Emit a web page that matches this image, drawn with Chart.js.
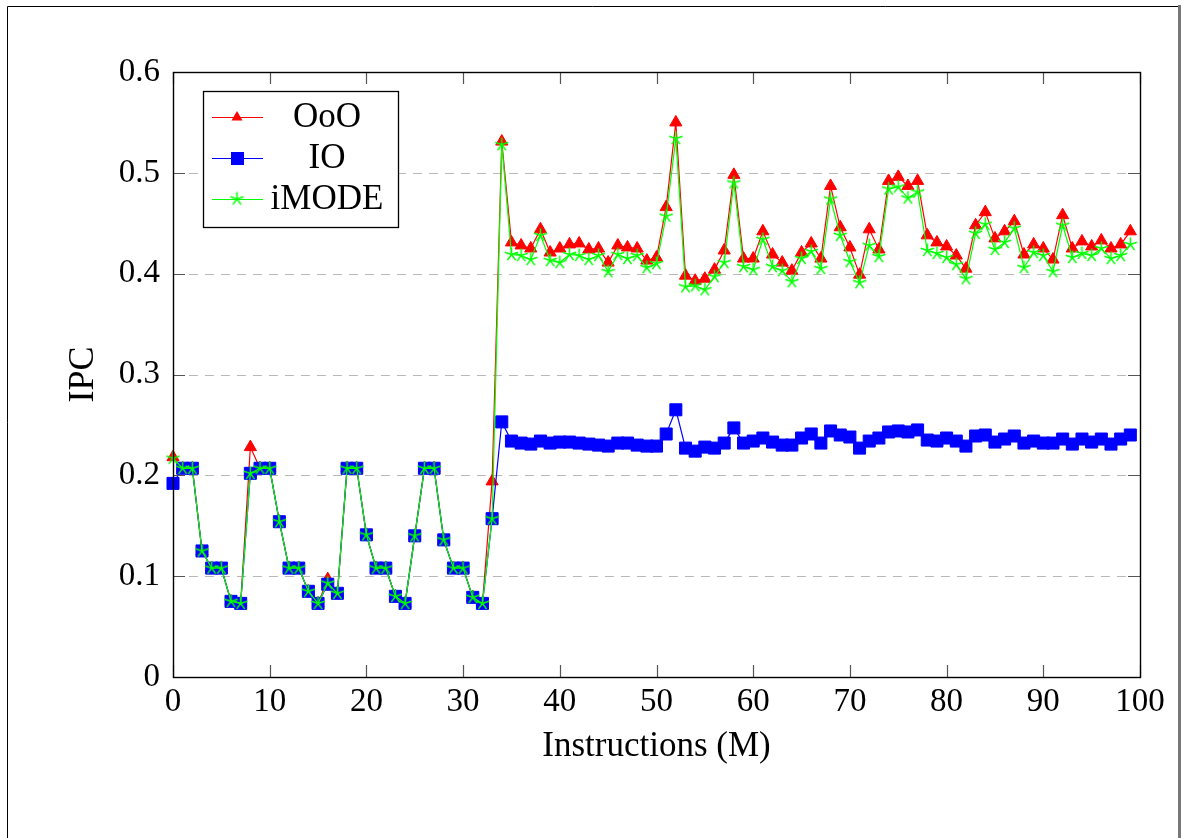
<!DOCTYPE html>
<html lang="en">
<head>
    <meta charset="UTF-8">
    <title>IPC</title>
    <style>
        html, body {
            margin: 0;
            padding: 0;
            background-color: #ffffff;
        }

        #chart-container {
            position: relative;
            width: 1182px;
            height: 838px;
        }
    </style>
</head>
<body>
    <div id="chart-container"><canvas id="ipcChart"></canvas></div>

    <script src="https://cdn.jsdelivr.net/npm/chart.js"></script>
    <script>
        // instrucciones (M)
        const instructions = [
            0, 1, 2, 3, 4, 5, 6, 7, 8, 9, 10, 11, 12, 13, 14, 15, 16, 17, 18, 19,
            20, 21, 22, 23, 24, 25, 26, 27, 28, 29, 30, 31, 32, 33, 34, 35, 36, 37, 38, 39,
            40, 41, 42, 43, 44, 45, 46, 47, 48, 49, 50, 51, 52, 53, 54, 55, 56, 57, 58, 59,
            60, 61, 62, 63, 64, 65, 66, 67, 68, 69, 70, 71, 72, 73, 74, 75, 76, 77, 78, 79,
            80, 81, 82, 83, 84, 85, 86, 87, 88, 89, 90, 91, 92, 93, 94, 95, 96, 97, 98, 99
        ];

        const oooIPC = [
            0.218, 0.207, 0.207, 0.125, 0.108, 0.108, 0.075, 0.073, 0.228, 0.207,
            0.207, 0.154, 0.108, 0.108, 0.085, 0.073, 0.097, 0.083, 0.207, 0.207,
            0.141, 0.108, 0.108, 0.080, 0.073, 0.140, 0.207, 0.207, 0.136, 0.108,
            0.108, 0.079, 0.073, 0.194, 0.531, 0.431, 0.428, 0.425, 0.444, 0.421,
            0.425, 0.429, 0.430, 0.424, 0.425, 0.411, 0.428, 0.426, 0.425, 0.413,
            0.416, 0.466, 0.550, 0.398, 0.393, 0.395, 0.404, 0.423, 0.498, 0.415,
            0.415, 0.442, 0.419, 0.411, 0.403, 0.421, 0.430, 0.415, 0.487, 0.446,
            0.426, 0.399, 0.444, 0.424, 0.492, 0.496, 0.487, 0.492, 0.438, 0.431,
            0.427, 0.418, 0.405, 0.448, 0.461, 0.435, 0.442, 0.452, 0.419, 0.429,
            0.425, 0.414, 0.458, 0.425, 0.432, 0.427, 0.433, 0.425, 0.429, 0.442
        ];

        const ioIPC = [
            0.192, 0.207, 0.207, 0.125, 0.108, 0.108, 0.075, 0.073, 0.202, 0.207,
            0.207, 0.154, 0.108, 0.108, 0.085, 0.073, 0.092, 0.083, 0.207, 0.207,
            0.141, 0.108, 0.108, 0.080, 0.073, 0.140, 0.207, 0.207, 0.136, 0.108,
            0.108, 0.079, 0.073, 0.157, 0.253, 0.234, 0.232, 0.231, 0.234, 0.232,
            0.233, 0.233, 0.232, 0.231, 0.230, 0.229, 0.232, 0.232, 0.230, 0.229,
            0.229, 0.241, 0.265, 0.227, 0.224, 0.228, 0.227, 0.232, 0.247, 0.232,
            0.234, 0.237, 0.233, 0.230, 0.230, 0.237, 0.241, 0.232, 0.244, 0.240,
            0.238, 0.227, 0.234, 0.237, 0.243, 0.244, 0.243, 0.245, 0.235, 0.234,
            0.237, 0.234, 0.229, 0.239, 0.240, 0.233, 0.236, 0.239, 0.232, 0.234,
            0.232, 0.232, 0.236, 0.231, 0.236, 0.233, 0.236, 0.231, 0.236, 0.240
        ];

        const imodeIPC = [
            0.217, 0.207, 0.207, 0.125, 0.108, 0.108, 0.075, 0.073, 0.202, 0.207,
            0.207, 0.154, 0.108, 0.108, 0.085, 0.073, 0.093, 0.083, 0.207, 0.207,
            0.141, 0.108, 0.108, 0.080, 0.073, 0.140, 0.207, 0.207, 0.136, 0.108,
            0.108, 0.079, 0.073, 0.157, 0.528, 0.419, 0.418, 0.414, 0.438, 0.413,
            0.411, 0.419, 0.418, 0.414, 0.418, 0.402, 0.419, 0.415, 0.418, 0.406,
            0.410, 0.457, 0.534, 0.387, 0.388, 0.384, 0.397, 0.411, 0.490, 0.407,
            0.404, 0.434, 0.407, 0.403, 0.392, 0.415, 0.422, 0.405, 0.474, 0.438,
            0.412, 0.391, 0.428, 0.417, 0.484, 0.486, 0.475, 0.481, 0.423, 0.420,
            0.416, 0.409, 0.395, 0.440, 0.449, 0.424, 0.431, 0.445, 0.406, 0.421,
            0.418, 0.402, 0.448, 0.416, 0.420, 0.418, 0.425, 0.415, 0.418, 0.429
        ];

        const xTickLabels = ['0', '10', '20', '30', '40', '50', '60', '70', '80', '90', '100'];
        const yTickLabels = ['0', '0.1', '0.2', '0.3', '0.4', '0.5', '0.6'];
        const seriesNames = ['OoO', 'IO', 'iMODE'];

        const serif = "'Liberation Serif', 'DejaVu Serif', serif";
        const RED = '#ff0000';
        const BLUE = '#0000ff';
        const GREEN = '#00ff00';

        // marca estrella (5 brazos) como en pgfplots
        function makeStar(r, color) {
            const c = document.createElement('canvas');
            const s = Math.ceil(r * 2) + 3;
            c.width = s;
            c.height = s;
            const g = c.getContext('2d');
            g.strokeStyle = color;
            g.lineWidth = 1.5;
            g.beginPath();
            for (let k = 0; k < 5; k++) {
                const a = -Math.PI / 2 + k * 2 * Math.PI / 5;
                g.moveTo(s / 2, s / 2);
                g.lineTo(s / 2 + r * Math.cos(a), s / 2 + r * Math.sin(a));
            }
            g.stroke();
            return c;
        }
        const starMark = makeStar(7, GREEN);

        // fondo, marco de la figura, rejilla y ticks hacia dentro
        const framePlugin = {
            id: 'frame',
            beforeDraw(chart) {
                const ctx = chart.ctx;
                ctx.save();
                ctx.fillStyle = '#ffffff';
                ctx.fillRect(0, 0, chart.width, chart.height);
                ctx.strokeStyle = '#000000';
                ctx.lineWidth = 1;
                ctx.beginPath();
                ctx.moveTo(7.5, chart.height);
                ctx.lineTo(7.5, 6.5);
                ctx.lineTo(1178, 6.5);
                ctx.stroke();
                ctx.strokeStyle = '#777777';
                ctx.lineWidth = 3;
                ctx.beginPath();
                ctx.moveTo(1179.5, 5);
                ctx.lineTo(1179.5, chart.height);
                ctx.stroke();
                ctx.restore();
            },
            beforeDatasetsDraw(chart) {
                const {ctx, chartArea: a, scales: {y}} = chart;
                ctx.save();
                ctx.strokeStyle = '#b8b8b8';
                ctx.lineWidth = 1.2;
                ctx.setLineDash([9, 7]);
                y.ticks.forEach(t => {
                    const py = Math.round(y.getPixelForValue(t.value)) + 0.5;
                    ctx.beginPath();
                    ctx.moveTo(a.left, py);
                    ctx.lineTo(a.right, py);
                    ctx.stroke();
                });
                ctx.restore();
            },
            afterDatasetsDraw(chart) {
                const {ctx, chartArea: a, scales: {x, y}} = chart;
                const len = 12;
                ctx.save();
                ctx.strokeStyle = '#555555';
                ctx.lineWidth = 1.2;
                ctx.beginPath();
                x.ticks.forEach(t => {
                    const px = Math.round(x.getPixelForValue(t.value)) + 0.5;
                    ctx.moveTo(px, a.bottom);
                    ctx.lineTo(px, a.bottom - len);
                    ctx.moveTo(px, a.top);
                    ctx.lineTo(px, a.top + len);
                });
                y.ticks.forEach(t => {
                    const py = Math.round(y.getPixelForValue(t.value)) + 0.5;
                    ctx.moveTo(a.left, py);
                    ctx.lineTo(a.left + len, py);
                    ctx.moveTo(a.right, py);
                    ctx.lineTo(a.right - len, py);
                });
                ctx.stroke();
                ctx.strokeStyle = '#000000';
                ctx.lineWidth = 1.4;
                ctx.strokeRect(Math.round(a.left) + 0.5, Math.round(a.top) + 0.5,
                    Math.round(a.right - a.left), Math.round(a.bottom - a.top));
                ctx.restore();
            },
            afterDraw(chart) {
                // leyenda dentro del área del gráfico
                const ctx = chart.ctx;
                const box = {left: 203.5, top: 91.5, width: 195, height: 136};
                const rows = [117, 158, 199];
                ctx.save();
                ctx.fillStyle = '#ffffff';
                ctx.fillRect(box.left, box.top, box.width, box.height);
                ctx.strokeStyle = '#000000';
                ctx.lineWidth = 1.3;
                ctx.strokeRect(box.left, box.top, box.width, box.height);

                const colors = [RED, BLUE, GREEN];
                rows.forEach((ry, i) => {
                    ctx.strokeStyle = colors[i];
                    ctx.lineWidth = 1.2;
                    ctx.beginPath();
                    ctx.moveTo(212, ry + 0.5);
                    ctx.lineTo(263, ry + 0.5);
                    ctx.stroke();
                    ctx.fillStyle = colors[i];
                    if (i === 0) {
                        ctx.beginPath();
                        ctx.moveTo(237, ry - 6);
                        ctx.lineTo(242.5, ry + 3.5);
                        ctx.lineTo(231.5, ry + 3.5);
                        ctx.closePath();
                        ctx.fill();
                    } else if (i === 1) {
                        ctx.fillRect(231, ry - 6, 13, 13);
                    } else {
                        ctx.drawImage(starMark, 237 - starMark.width / 2, ry - starMark.height / 2);
                    }
                    ctx.fillStyle = '#000000';
                    ctx.font = '35px ' + serif;
                    ctx.textAlign = 'center';
                    ctx.textBaseline = 'middle';
                    ctx.fillText(seriesNames[i], 327, ry + 1);
                });
                ctx.restore();
            }
        };

        const chart = new Chart(document.getElementById('ipcChart').getContext('2d'), {
            type: 'line',
            data: {
                labels: instructions,
                datasets: [{
                    label: seriesNames[0],
                    data: oooIPC,
                    borderColor: RED,
                    backgroundColor: RED,
                    borderWidth: 1.2,
                    pointStyle: 'triangle',
                    pointRadius: 7,
                    pointBorderWidth: 1,
                    pointBackgroundColor: RED,
                    pointBorderColor: RED,
                    fill: false,
                    tension: 0,
                    clip: false,
                    order: 3
                }, {
                    label: seriesNames[1],
                    data: ioIPC,
                    borderColor: BLUE,
                    backgroundColor: BLUE,
                    borderWidth: 1.2,
                    pointStyle: 'rect',
                    pointRadius: 8.5,
                    pointBorderWidth: 1,
                    pointBackgroundColor: BLUE,
                    pointBorderColor: BLUE,
                    fill: false,
                    tension: 0,
                    clip: false,
                    order: 2
                }, {
                    label: seriesNames[2],
                    data: imodeIPC,
                    borderColor: GREEN,
                    backgroundColor: GREEN,
                    borderWidth: 1.2,
                    pointStyle: starMark,
                    pointRadius: 7,
                    fill: false,
                    tension: 0,
                    clip: false,
                    order: 1
                }]
            },
            options: {
                responsive: true,
                maintainAspectRatio: false,
                animation: false,
                layout: {
                    padding: { top: 72, right: 42, left: 0, bottom: 0 }
                },
                plugins: {
                    legend: { display: false },
                    tooltip: { enabled: false }
                },
                scales: {
                    x: {
                        type: 'linear',
                        min: 0,
                        max: 100,
                        ticks: {
                            stepSize: 10,
                            color: '#000000',
                            font: { family: serif, size: 33 },
                            padding: 6,
                            maxRotation: 0,
                            callback: (value, index) => xTickLabels[index]
                        },
                        grid: { display: false, drawTicks: false },
                        border: { display: false },
                        title: {
                            display: true,
                            text: 'Instructions (M)',
                            color: '#000000',
                            font: { family: serif, size: 35 },
                            padding: { top: 0, bottom: 70 }
                        },
                        afterFit: (scale) => { scale.height = 161; }
                    },
                    y: {
                        min: 0,
                        max: 0.6,
                        ticks: {
                            stepSize: 0.1,
                            color: '#000000',
                            font: { family: serif, size: 33 },
                            padding: 13,
                            callback: (value, index) => yTickLabels[index]
                        },
                        grid: { display: false, drawTicks: false },
                        border: { display: false },
                        title: {
                            display: true,
                            text: 'IPC',
                            color: '#000000',
                            font: { family: serif, size: 36 },
                            padding: { top: 62, bottom: 0 }
                        },
                        afterFit: (scale) => { scale.width = 173; }
                    }
                }
            },
            plugins: [framePlugin]
        });
    </script>
</body>
</html>
